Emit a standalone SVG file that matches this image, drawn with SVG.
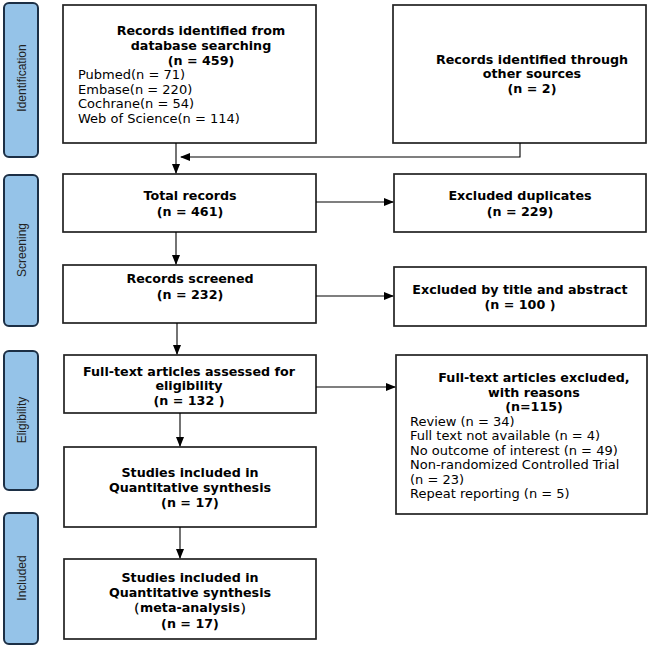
<svg xmlns="http://www.w3.org/2000/svg" width="652" height="647" viewBox="0 0 652 647">
<defs>
<marker id="ah" markerWidth="10" markerHeight="8" refX="9" refY="4" orient="auto" markerUnits="userSpaceOnUse">
<path d="M0,0 L10,4 L0,8 Z" fill="#000"/>
</marker>
<style>
.stage rect{fill:#95c3e8;stroke:#1c2f45;stroke-width:2}
.stage text{font-family:"Liberation Sans",Arial,sans-serif;font-size:12px;fill:#222;text-anchor:middle}
.box rect{fill:#fff;stroke:#222;stroke-width:1.7}
.box text{font-family:"DejaVu Sans","Liberation Sans",sans-serif;font-size:13px;fill:#000}
.box text.b{font-weight:bold;text-anchor:middle;font-size:12.7px}
.conn path{fill:none;stroke:#000;stroke-width:1.1}
</style>
</defs>
<rect width="652" height="647" fill="#fff"/>
<g id="stage-identification" class="stage"><rect x="4" y="3" width="34" height="154" rx="5"/><text transform="translate(25.5,78) rotate(-90)">Identification</text></g>
<g id="stage-screening" class="stage"><rect x="4" y="175" width="34" height="151" rx="5"/><text transform="translate(25.5,250) rotate(-90)">Screening</text></g>
<g id="stage-eligibility" class="stage"><rect x="4" y="351" width="34" height="139" rx="5"/><text transform="translate(25.5,420) rotate(-90)">Eligibility</text></g>
<g id="stage-included" class="stage"><rect x="4" y="513" width="34" height="131" rx="5"/><text transform="translate(25.5,578) rotate(-90)">Included</text></g>

<g id="n-database" class="box"><rect x="63" y="5" width="253" height="138"/>
<text class="b" x="201" y="35">Records identified from</text>
<text class="b" x="201" y="50">database searching</text>
<text class="b" x="201" y="65">(n = 459)</text>
<text x="78" y="79">Pubmed(n = 71)</text>
<text x="78" y="93.5">Embase(n = 220)</text>
<text x="78" y="108">Cochrane(n = 54)</text>
<text x="78" y="122.5">Web of Science(n = 114)</text>
</g>
<g id="n-other" class="box"><rect x="393" y="5" width="253" height="138"/>
<text class="b" x="532" y="64">Records identified through</text>
<text class="b" x="532" y="78">other sources</text>
<text class="b" x="532" y="93">(n = 2)</text>
</g>
<g id="n-total" class="box"><rect x="63" y="174" width="253" height="58"/>
<text class="b" x="190" y="200">Total records</text>
<text class="b" x="190" y="216">(n = 461)</text>
</g>
<g id="n-dup" class="box"><rect x="394" y="174" width="252" height="58"/>
<text class="b" x="520" y="200">Excluded duplicates</text>
<text class="b" x="520" y="216">(n = 229)</text>
</g>
<g id="n-screened" class="box"><rect x="63" y="265" width="253" height="58"/>
<text class="b" x="190" y="283">Records screened</text>
<text class="b" x="190" y="299">(n = 232)</text>
</g>
<g id="n-title" class="box"><rect x="394" y="267" width="252" height="59"/>
<text class="b" x="520" y="294">Excluded by title and abstract</text>
<text class="b" x="520" y="309">(n = 100 )</text>
</g>
<g id="n-fulltext" class="box"><rect x="64" y="355" width="252" height="58"/>
<text class="b" x="189" y="376">Full-text articles assessed for</text>
<text class="b" x="189" y="390">eligibility</text>
<text class="b" x="189" y="405">(n = 132 )</text>
</g>
<g id="n-excluded" class="box"><rect x="396" y="355" width="251" height="159"/>
<text class="b" x="534" y="382">Full-text articles excluded,</text>
<text class="b" x="534" y="397">with reasons</text>
<text class="b" x="534" y="411">(n=115)</text>
<text x="410" y="425.5">Review (n = 34)</text>
<text x="410" y="440">Full text not available (n = 4)</text>
<text x="410" y="454.5">No outcome of interest (n = 49)</text>
<text x="410" y="469">Non-randomized Controlled Trial</text>
<text x="410" y="483.5">(n = 23)</text>
<text x="410" y="498">Repeat reporting (n = 5)</text>
</g>
<g id="n-quant" class="box"><rect x="64" y="447" width="252" height="80"/>
<text class="b" x="190" y="477">Studies included in</text>
<text class="b" x="190" y="492">Quantitative synthesis</text>
<text class="b" x="190" y="507">(n = 17)</text>
</g>
<g id="n-meta" class="box"><rect x="64" y="559" width="252" height="80"/>
<text class="b" x="190" y="582">Studies included in</text>
<text class="b" x="190" y="597">Quantitative synthesis</text>
<text class="b" x="190" y="612" font-family="'DejaVu Sans','Noto Sans CJK SC',sans-serif">（meta-analysis）</text>
<text class="b" x="190" y="628">(n = 17)</text>
</g>

<g id="connectors" class="conn">
<path d="M176,143 V173" marker-end="url(#ah)"/>
<path d="M520,143 V157 H181" marker-end="url(#ah)"/>
<path d="M176,232 V264" marker-end="url(#ah)"/>
<path d="M316,202 H393" marker-end="url(#ah)"/>
<path d="M316,296 H393" marker-end="url(#ah)"/>
<path d="M177,323 V354" marker-end="url(#ah)"/>
<path d="M316,387 H395" marker-end="url(#ah)"/>
<path d="M180,413 V446" marker-end="url(#ah)"/>
<path d="M180,527 V558" marker-end="url(#ah)"/>
</g>
</svg>
